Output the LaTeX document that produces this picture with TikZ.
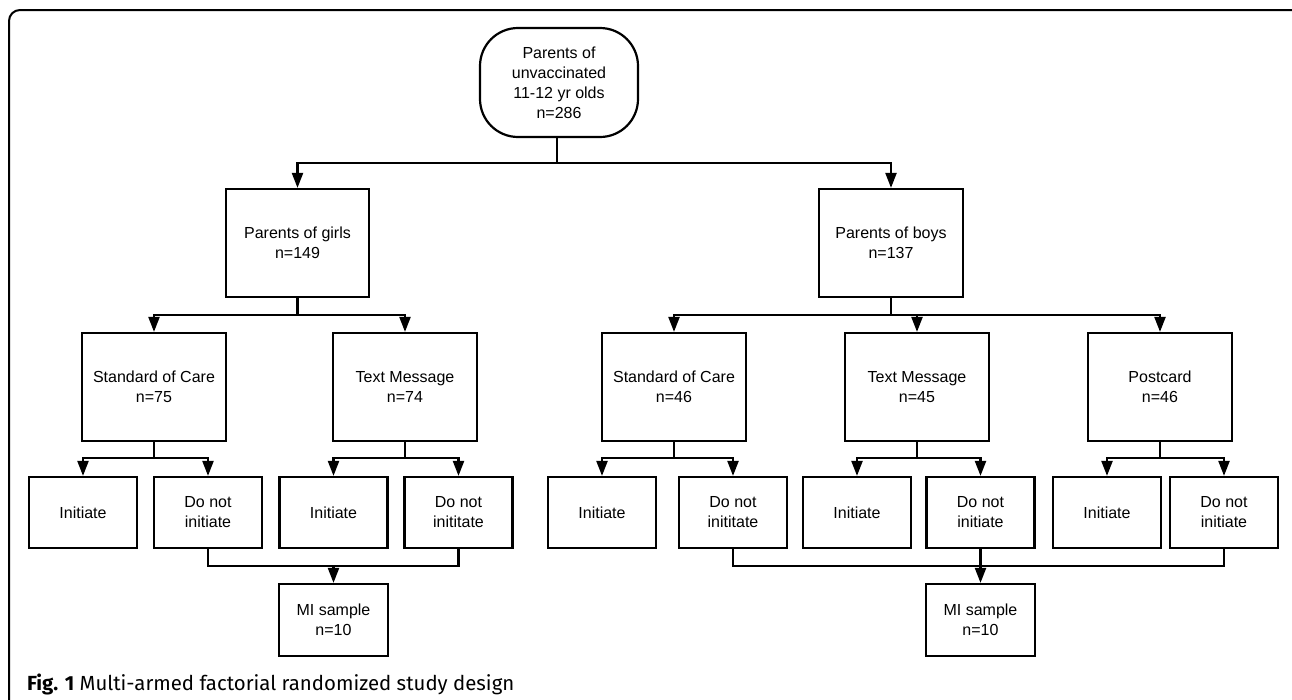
\documentclass[tikz,border=0pt]{standalone}
\usepackage{fontspec}
\setmainfont{Liberation Sans}
\newfontfamily\capfont{Fira Sans}
\usetikzlibrary{arrows.meta}
\begin{document}
\begin{tikzpicture}[x=1pt,y=-1pt,
  line width=2.2pt,
  box/.style={draw, rectangle, align=center, inner sep=0pt,
    font=\fontsize{16}{20}\selectfont, minimum width=144pt, minimum height=108pt},
  leaf/.style={box, minimum width=108pt, minimum height=71pt},
  arr/.style={-{Triangle[width=11pt,length=15pt]}}]
\useasboundingbox (0,0) rectangle (1292,699);
\begin{scope}
\clip (0,0) rectangle (1292,699);
\draw[line width=2pt, rounded corners=11pt] (9,720) -- (9,10) -- (1302,10) -- (1302,720);
\end{scope}
% nodes
\node[box, rounded corners=38pt, minimum width=158pt, minimum height=109pt] (root) at (559,82.5)
  {Parents of\\unvaccinated\\11-12 yr olds\\n=286};
\node[box, minimum width=143pt] (girls) at (297.5,243) {Parents of girls\\n=149};
\node[box] (boys) at (891,243) {Parents of boys\\n=137};
\node[box] (gsoc) at (154,387) {Standard of Care\\n=75};
\node[box] (gtm) at (405,387) {Text Message\\n=74};
\node[box] (bsoc) at (674,387) {Standard of Care\\n=46};
\node[box] (btm) at (917,387) {Text Message\\n=45};
\node[box] (bpc) at (1160,387) {Postcard\\n=46};
\node[leaf] (g1i) at (83,512.5) {Initiate};
\node[leaf] (g1d) at (208,512.5) {Do not\\initiate};
\node[leaf] (g2i) at (333.5,512.5) {Initiate};
\node[leaf] (g2d) at (458.5,512.5) {Do not\\inititate};
\node[leaf] (b1i) at (602,512.5) {Initiate};
\node[leaf] (b1d) at (733,512.5) {Do not\\inititate};
\node[leaf] (b2i) at (857,512.5) {Initiate};
\node[leaf] (b2d) at (980.5,512.5) {Do not\\initiate};
\node[leaf] (b3i) at (1107,512.5) {Initiate};
\node[leaf] (b3d) at (1224,512.5) {Do not\\initiate};
\node[leaf, minimum width=109pt, minimum height=72pt] (gmi) at (333.5,620) {MI sample\\n=10};
\node[leaf, minimum width=109pt, minimum height=72pt] (bmi) at (980.5,620) {MI sample\\n=10};
% junctions
\coordinate (j0) at (557,163);
\coordinate (jg) at (297.5,315);
\coordinate (jb) at (891,315);
\coordinate (jg1) at (154,458);
\coordinate (mg) at (333.5,566);
\coordinate (mb) at (980.5,566);
% connectors
\draw (root.south -| j0) -- (j0);
\draw[arr] (j0) -| (girls.north);
\draw[arr] (j0) -| (boys.north);
\draw (girls.south) -- (jg);
\draw[arr] (jg) -| (gsoc.north);
\draw[arr] (jg) -| (gtm.north);
\draw (boys.south) -- (jb);
\draw[arr] (jb) -| (bsoc.north);
\draw[arr] (jb) -| (btm.north);
\draw[arr] (jb) -| (bpc.north);
\foreach \p/\a/\b in {gsoc/g1i/g1d, gtm/g2i/g2d, bsoc/b1i/b1d, btm/b2i/b2d, bpc/b3i/b3d}{
  \draw (\p.south) -- (\p.south |- jg1);
  \draw[arr] (\p.south |- jg1) -| (\a.north);
  \draw[arr] (\p.south |- jg1) -| (\b.north);
}
\draw (g1d.south) |- (mg) -| (g2d.south);
\draw[arr] (mg) -- (gmi.north);
\draw (b1d.south) |- (mb) -| (b3d.south);
\draw (b2d.south) -- (mb);
\draw[arr] (mb) -- (bmi.north);
% caption
\node[anchor=base west, inner sep=0pt, font=\capfont\fontsize{20.4}{24}\selectfont] (cap) at (26,690)
  {\textbf{Fig. 1} Multi-armed factorial randomized study design};
\end{tikzpicture}
\end{document}
